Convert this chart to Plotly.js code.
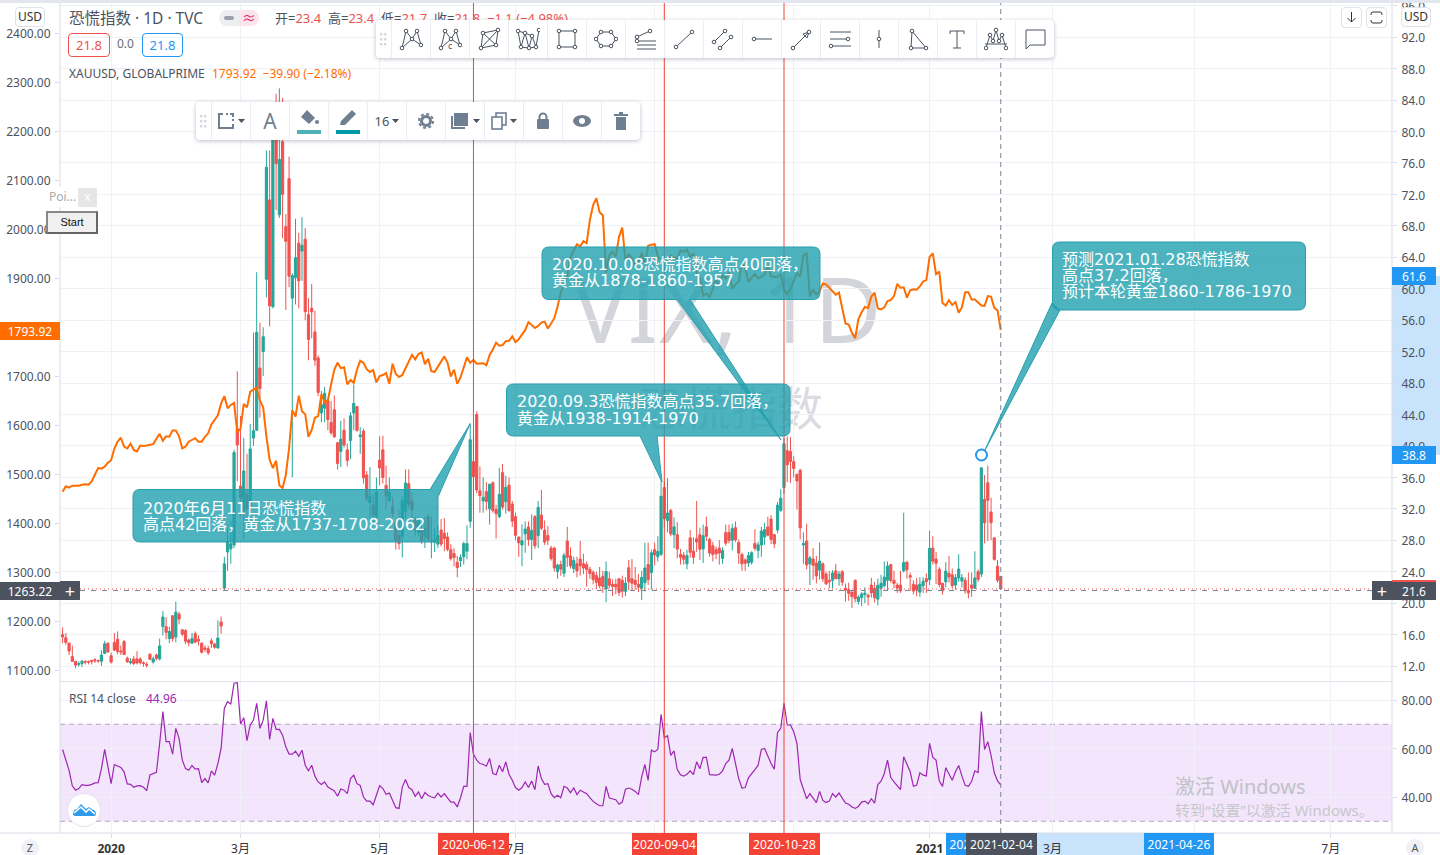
<!DOCTYPE html>
<html><head><meta charset="utf-8">
<script src="https://cdn.plot.ly/plotly-3.0.1.min.js"></script>
<style>
html,body{margin:0;padding:0;background:#fff;width:1440px;height:855px;overflow:hidden;font-family:"Noto Sans","Noto Sans CJK SC",sans-serif}
#wm1,#wm2{position:absolute;color:#d3d5da;white-space:nowrap;z-index:0;transform:translateX(-50%)}
#wm1{left:727px;top:243px;font-size:92px;line-height:130px}
#wm2{left:731px;top:375px;font-size:46px;line-height:60px;color:#d9dbe0;font-family:"Noto Sans CJK SC"}
#chart{position:absolute;left:0;top:0;width:1440px;height:855px;z-index:1}
.w{position:absolute;z-index:3;box-sizing:border-box}
.btn{border:1px solid #dfe2ea;border-radius:4px;background:#fff;font-size:12px;color:#333;text-align:center;line-height:18px}
.bar{background:#fff;border-radius:4px;box-shadow:0 1px 4px rgba(60,70,100,.35);display:flex;height:38px}
.cell{width:39px;height:38px;border-left:1px solid #eceef3;box-sizing:border-box;display:flex;align-items:center;justify-content:center;color:#6f7f92;font-size:13px}
.handle{width:15px;height:38px;display:flex;align-items:center;justify-content:center}
</style></head><body>
<div id="wm1">VIX, 1D</div><div id="wm2">恐慌指数</div>
<div id="chart"></div>
<div class="w" style="left:0;top:0;width:1440px;height:3px;background:#e3e6ef"></div>
<div class="w btn" style="left:15px;top:7px;width:30px;height:20px">USD</div>
<div class="w btn" style="left:1401px;top:7px;width:30px;height:20px">USD</div>
<div class="w btn" style="left:1341px;top:7px;width:21px;height:21px"><svg width="19" height="19" viewBox="0 0 19 19"><path d="M9.5 4v10M5.5 10l4 4 4-4" fill="none" stroke="#333"/></svg></div>
<div class="w btn" style="left:1366px;top:7px;width:21px;height:21px"><svg width="19" height="19" viewBox="0 0 19 19"><path d="M4 7V6a2 2 0 0 1 2-2h7a2 2 0 0 1 2 2v1M4 12v1a2 2 0 0 0 2 2h7a2 2 0 0 0 2-2v-1" fill="none" stroke="#333"/></svg></div>
<div class="w" style="left:219px;top:10px;width:20px;height:16px;background:#eceef2;border-radius:8px 0 0 8px"><div style="position:absolute;left:5px;top:6px;width:10px;height:4px;border-radius:2px;background:#9aa1ad"></div></div>
<div class="w" style="left:239px;top:10px;width:20px;height:16px;background:#fce4ec;border-radius:0 8px 8px 0;color:#e91e63;font-size:14px;line-height:15px;text-align:center">≈</div>
<div class="w" style="left:68px;top:33px;width:42px;height:24px;border:1px solid #ef5350;border-radius:4px;color:#ef5350;font-size:13px;line-height:22px;text-align:center">21.8</div>
<div class="w" style="left:117px;top:36px;font-size:12px;color:#6a6d78;line-height:16px">0.0</div>
<div class="w" style="left:142px;top:33px;width:41px;height:24px;border:1px solid #2196f3;border-radius:4px;color:#2196f3;font-size:13px;line-height:22px;text-align:center">21.8</div>
<div class="w" style="left:46px;top:187px;width:52px;height:20px;background:#fff;color:#aaa;font-size:12px;line-height:20px;padding-left:3px">Poi...<div style="position:absolute;right:1px;top:1px;width:19px;height:19px;background:#e6e6e6;color:#fff;text-align:center;line-height:18px">x</div></div>
<div class="w" style="left:46px;top:211px;width:52px;height:23px;background:#f0f0f0;border:2px solid #666;border-top-color:#888;border-left-color:#888;color:#111;font:11px/19px 'Liberation Sans';text-align:center">Start</div>
<div class="w" style="left:21px;top:839px;width:18px;height:18px;border-radius:9px;background:#eff1f6;color:#555;font-size:11px;line-height:18px;text-align:center">Z</div>
<div class="w" style="left:1406px;top:839px;width:18px;height:18px;border-radius:9px;background:#eff1f6;color:#555;font-size:11px;line-height:18px;text-align:center">A</div>
<div class="w" style="left:67px;top:793px;width:34px;height:34px;border-radius:17px;background:#fff;border:1px solid #e2e4ea"><svg width="32" height="32" viewBox="0 0 32 32"><path d="M5 20c0-3 2-5 4-5l4-5 5 5 3-2 4 3c2 0 3 2 3 4 0 1-1 2-2 2H7c-1 0-2-1-2-2z" fill="#2f9bea"/><path d="M6 19l7-6 5 5 3-3 6 5" fill="none" stroke="#fff" stroke-width="1.6"/></svg></div>
<div class="w bar" id="tb1" style="left:376px;top:20px;width:678px"></div>
<div class="w bar" id="tb2" style="left:196px;top:102px;width:444px"></div>
<script>
// ---------- VIX daily candles, 2019-12-10 .. 2021-02-04 ----------
const vixOpen=[
16,15.6,14.9,13.2,12.6,12.2,12.3,12.6,12.55,12.7,
12.8,12.7,12.6,13.6,14.9,13.3,15,15.4,13.9,15.1,
13,12.4,12.9,12.9,12.9,12.4,12.2,13.5,12.5,13.4,
12.9,17,17,15.5,18.4,15.7,18.6,16.6,16.5,15.3,
14.9,16.1,15.4,14.9,14.3,14.2,15.2,14.8,14.3,17.6,
21.9,26.5,26.9,27.4,42.2,34.9,31.6,33.9,32,41,
42,49.9,52,61.2,71.3,57.7,81.5,69.4,78.7,67.9,
74,58.8,61.4,65.8,64.8,66.3,56.7,57.5,54.5,51.2,
44.2,44.8,45.8,43,44.6,40.4,39.3,42,39.5,40.7,
44.2,45,41.2,41.9,36.3,32.8,32.5,31,38.2,39.5,
35,33,32.3,30.3,28.6,28.5,31.7,35.2,33,30.7,
29,29.5,28.5,31,27.8,27.7,27.5,29.3,28.9,28.4,
26.8,26.3,25.2,25.4,25.9,26.6,30.4,38,44,34.3,
33,34.2,32,35.3,31.9,31,36.6,32.9,35,32.6,
31,28.4,27.4,28.8,29.7,28.1,31,28.6,31.2,29.3,
28.6,27,27,24,24.9,23.8,27.9,26,24.4,25,
25.6,25,24.9,24.3,23.9,23.5,23.2,23.4,21.8,23.1,
22.4,22.4,23.1,22.9,21.5,24.5,23.1,22.9,22.4,21.9,
22.6,24.9,23.9,26.8,25.9,26.2,34.7,30.5,31.8,28.7,
28.7,26.2,26.1,25,28.3,26.6,28.2,28.7,26.9,29.7,
28.1,27.3,26.8,27,25.7,29,29,28,29.6,27.7,
26.2,25.5,25.1,25.2,27.6,26.7,27.4,28.4,29.7,30.7,
28.7,29.3,31.8,34.7,39.4,39.3,38,36.4,36.9,27.4,
27.9,25,25.6,25.1,24.2,25,23.7,22.9,22.9,24.1,
23.1,24,21.9,21.7,21.4,22.9,20.2,20.7,21.1,21,
22.3,21.9,20.5,21.9,22.2,22.9,24.9,22.9,22.3,22.3,
24.1,25.2,23.5,22.4,22.3,21.4,22.2,23.1,23,27,
25.6,24.3,22.5,22.7,23.8,23.6,22.3,23.2,22.8,22.9,
21.6,22.3,21.9,24,23.7,33.2,35.3,31.6,28.3,24.7,
23.4];
const vixHigh=[
16.9,16.2,15,14.6,12.6,12.6,12.8,12.7,12.7,12.8,
13,12.8,14,15.2,15,13.7,16.2,16.4,14.6,15.3,
13.2,13,13.3,13.9,13.1,12.6,12.5,13.6,13.2,13.6,
15.5,19,18.2,17,18.4,20.2,18.9,16.7,16.7,15.5,
16.2,16.4,15.9,15,14.6,14.6,15.5,14.9,17.8,18.3,
25.9,30,30.4,39.5,49.5,43.8,41,39,42.8,54.4,
62.1,55.7,55.1,77.6,77.6,83.6,84.8,85.5,84.3,69.5,
76.8,62,68.9,67.1,69.1,67.7,58.8,60.6,57.2,51.5,
47,47.5,46,45.7,46.4,40.5,43.2,43.5,40.3,44.3,
47.8,45.1,42.4,42.2,36.8,37.3,33.9,36,41.2,41.3,
37.5,36,33.5,30.6,31.8,33.6,37,37,34,31,
31,30.3,31,31.4,31,29.5,29.9,30.7,30.8,29,
27.5,27,26,26.2,27.8,29.9,42.9,41.5,44.4,37.4,
36,35.4,35.2,35.5,32.5,37.2,37.7,36.2,36,33,
31.5,28.5,30,30.4,30.4,31.3,31.2,33,34.4,30.5,
29.8,27.3,27.2,25,25.4,26.4,29.7,27.1,25.9,25.9,
27.9,26.3,25.3,24.6,24.2,24,24.6,24.1,25.3,24,
23,23.1,23.2,23.5,23.3,25.5,25.6,24.6,23.7,24.1,
27.7,27.7,26.8,27.7,28.5,35.7,35.5,35.9,32,30.9,
30.3,26.9,26.5,26.8,29.3,28.4,33,29.6,30,31,
28.3,27.8,27.2,28,27.1,30,30,30.1,30.4,28.1,
26.4,25.7,26.5,26.6,29.4,27.8,29.7,30.2,31,31.2,
28.8,32.9,34.5,41,41.2,41.1,38.7,36.4,37.1,29,
30.1,26,27,26,27.7,25.2,24,24.1,24.2,25,
24.1,24.2,22.5,22.6,21.5,23,21,21.4,22,21.2,
23.2,22.7,23.1,23.6,25.3,25.3,25,24.1,22.6,24.1,
31.5,25.4,23.9,22.9,23.2,23.3,23.3,23.8,29.2,28.5,
26.5,24.6,22.6,25.2,26,24.4,23.7,26.2,23.7,23.3,
23.9,23.9,26.6,24.3,37.3,36.3,37.5,33.4,28.4,25.5,
23.4];
const vixLow=[
14.9,14.7,13.4,12.5,11.7,11.9,11.9,12.2,12.2,12.2,
12.4,12.4,12,13.5,13.7,12.3,13.9,13.5,13.4,13.4,
12.4,12.2,12.1,12.2,12.2,11.9,11.8,12.8,12.3,12.7,
12.7,15.9,15.4,14.9,15.1,15,17.3,15.8,14.8,14.5,
14.9,14.9,14.6,13.6,13.8,13.4,14.3,14.2,14.2,16.1,
21.6,24.1,25,27,35.5,31,28,30,31,40,
41.9,43.6,48.9,58.9,55.2,57.5,70,69,66.4,57.3,
60.2,36,58,57.5,61,56,50.9,53.7,50.2,46.3,
43,43,42,41.4,41,37,37.3,39.8,37.4,38.3,
42,41.8,39,35.2,33,30.5,30,30.4,35,35.2,
32,33,30.9,26.8,26.8,25.8,30.7,32,30.7,28.5,
28.5,27.5,27,27.8,25.7,26.5,27,27.2,26.6,26.6,
25.4,24.7,23.3,24.6,24.9,25.6,29.6,32,34,31.5,
31.5,31.8,30,31.5,28.2,30.8,31.9,31.4,31.6,29.7,
28,25.9,24.7,26.4,27.3,25.5,26.9,27,29.3,27.4,
27.4,25.4,24,23.1,23.5,23.3,24.6,24.4,23.8,23.3,
23.5,23.7,22.1,23.1,22.4,21.8,21.9,21.3,20.1,21.9,
20.9,21.1,20.9,20.7,20.9,21.7,21.6,21.7,21.4,20.4,
21.5,22.3,21.7,24.8,25.3,26,29.6,29,28.5,27,
25.7,24.9,24.9,24.3,25.8,25,26.5,25.5,25.1,27.9,
25.9,25.3,25.6,24.9,25,27.3,27.6,26.7,27.8,25,
24.1,24.1,24.6,24.9,26.7,25.7,25.9,27.4,28.5,27.5,
27,28.9,31.6,33.9,35.4,35.3,36,31.9,28.1,25,
24.3,22.3,23,22.5,23,22.7,22.3,21.9,21.9,23.3,
22.2,22.2,20.2,20.3,19.4,20.1,19.8,19.6,20,19.7,
20.7,20.1,19.7,20.8,22,21.6,22.6,21.9,21.3,21.3,
23.9,23.1,21.6,21.1,20.9,20.8,21.3,21.3,22.3,24.9,
22.4,22,21.1,22,22.6,21.9,21.7,22.7,22,21.2,
20.6,20.8,21.8,22.7,23.3,27.6,27.9,28,25.4,22.6,
21.7];
const vixClose=[
15.7,15,13.9,12.6,12.1,12.3,12.6,12.5,12.5,12.6,
12.67,12.65,13.4,14.82,13.78,12.5,14.02,13.85,13.79,13.45,
12.54,12.56,12.32,12.39,12.42,12.32,12.1,12.85,12.91,12.98,
14.56,18.23,16.28,16.39,15.49,18.84,17.97,16.05,15.15,14.96,
15.47,15.04,15.18,13.74,14.15,13.68,14.83,14.38,15.56,17.08,
25,27.85,27.56,39.16,40.11,33.42,36.82,31.99,39.62,41.94,
54.46,47.3,53.9,75.47,57.83,82.69,75.91,76.45,72,66.04,
61.59,61.67,63.95,61,65.54,57.08,53.54,57.06,50.91,46.8,
45.24,46.7,43.35,41.67,41.17,37.76,40.84,40.11,38.15,43.83,
45.41,41.98,41.38,35.93,33.29,33.57,31.23,34.15,37.19,35.97,
33.61,34.12,31.44,27.98,27.57,33.04,35.28,32.61,31.89,29.3,
30.53,27.99,29.53,28.16,27.91,28.01,28.59,27.51,28.23,26.84,
25.66,25.81,24.52,25.81,27.57,27.57,40.79,36.09,34.4,33.67,
33.47,32.94,35.12,31.77,31.37,33.84,32.22,34.73,31.78,30.43,
28.62,27.68,27.94,29.43,28.08,29.26,27.29,32.19,29.52,27.76,
28,25.68,24.46,24.84,24.32,26.08,25.84,24.74,25.44,24.1,
24.76,24.46,24.28,23.76,22.99,22.65,22.21,22.13,24.03,22.28,
22.13,22.05,21.35,21.51,22.54,22.72,22.54,22.37,22.03,23.27,
24.47,22.96,26.41,26.12,26.57,33.6,30.75,31.46,28.81,29.71,
26.87,25.85,25.59,26.04,26.46,25.83,27.78,26.86,28.58,28.51,
26.38,26.19,26.27,26.37,26.7,27.63,27.96,29.48,28.06,26.36,
25,25.07,26.07,26.4,26.97,27.41,29.18,29.35,28.65,28.11,
27.55,32.46,33.35,40.28,37.59,38.02,37.13,35.55,29.57,27.58,
24.86,25.75,24.8,23.45,25.35,23.1,22.45,22.71,23.84,23.11,
23.7,22.66,21.64,21.25,20.84,20.57,20.77,21.17,21.28,20.79,
21.3,20.68,22.27,22.52,23.31,24.72,22.89,22.5,21.93,21.57,
25.16,24.23,23.31,21.53,21.7,22.4,22.77,22.75,26.97,25.34,
25.07,22.37,21.56,24.08,23.33,22.21,23.25,24.34,23.24,21.58,
21.32,21.91,23.19,23.02,37.21,30.21,33.09,30.24,25.56,22.91,
21.8];
// ---------- XAUUSD close line ----------
const goldClose=[
1464,1475,1472,1476,1476,1476,1478,1479,1478,1485,
1499,1512,1511,1515,1523,1528,1552,1566,1574,1556,
1552,1562,1549,1546,1558,1557,1558,1559,1561,1572,
1582,1568,1577,1576,1589,1589,1577,1552,1556,1566,
1570,1573,1566,1566,1576,1583,1601,1611,1620,1644,
1659,1634,1641,1645,1585,1592,1643,1636,1668,1672,
1676,1650,1636,1577,1529,1512,1527,1477,1471,1498,
1552,1630,1617,1660,1628,1622,1576,1590,1615,1618,
1663,1646,1650,1683,1713,1727,1716,1718,1683,1692,
1686,1713,1731,1727,1714,1708,1712,1687,1700,1702,
1706,1684,1725,1704,1698,1702,1716,1731,1743,1734,
1745,1748,1724,1735,1710,1708,1718,1729,1740,1727,
1699,1713,1684,1697,1716,1738,1727,1733,1725,1726,
1726,1722,1743,1754,1768,1762,1763,1771,1772,1781,
1769,1775,1785,1794,1810,1803,1798,1802,1809,1811,
1797,1807,1818,1842,1871,1888,1902,1944,1955,1969,
1964,1975,1971,2019,2049,2063,2034,2028,1911,1946,
1954,1944,1984,2003,1936,1948,1941,1927,1929,1952,
1929,1966,1968,1969,1945,1931,1933,1932,1946,1942,
1940,1956,1954,1958,1943,1950,1910,1900,1864,1868,
1861,1880,1897,1885,1906,1899,1913,1878,1887,1893,
1930,1922,1892,1901,1908,1899,1903,1907,1924,1904,
1902,1902,1907,1877,1867,1878,1894,1910,1903,1946,
1951,1862,1877,1866,1873,1889,1887,1880,1872,1866,
1870,1837,1807,1805,1788,1777,1816,1830,1841,1839,
1862,1870,1838,1836,1840,1853,1855,1863,1888,1880,
1881,1860,1875,1877,1876,1883,1893,1896,1943,1950,
1908,1913,1849,1844,1855,1845,1851,1829,1840,1871,
1871,1856,1856,1850,1844,1843,1863,1862,1839,1834,
1793.92];
// ---------- RSI 14 ----------
const rsiValues=[
59.6,55.6,51,44.6,42.8,43.5,45.1,44.8,44.8,45.2,
45.8,45.9,51.7,59.6,52.4,45.5,53.4,52.7,52.2,50.4,
45.4,45.2,44,44.6,44.7,44,42.6,49.1,49.5,50.2,
62.1,75.2,62.8,62.8,57.7,68.3,64.2,55.2,51.7,51,
53,51.5,51.7,45.9,47.6,45.8,50.8,49,53.8,60,
76.6,79.3,78.4,86.9,87.1,70.1,72.7,63.2,69.7,71.7,
78.6,68.3,71.7,79.7,63.7,72.4,67.9,67.9,65.5,60.7,
57.7,57.7,58.9,56.8,59.3,53.1,50.8,53.1,48.6,46.2,
45.2,46.2,44.1,43.3,42.5,40.3,43.3,42.8,41.4,47.6,
49,45.5,44.8,40,38.3,38.3,36.8,40.7,44.7,43.5,
41.1,41.6,38.9,35.6,35.3,44.1,47.2,43.9,43,40.3,
42.1,39.3,41.9,40.6,40,39.7,41.6,40,41.4,39.7,
37.9,37.9,35.9,39.7,44.4,44.4,66.6,57.7,55.2,53.8,
53.5,52.7,55.9,49.7,49.2,53.1,50.4,54.5,49.4,46.9,
43.9,42.8,
43.9,46.2,43.9,46.6,43,52.8,47.6,45.2,
45.5,41.4,39.7,40.7,39.7,44.4,43.7,41.8,43.7,41,
42.8,42.1,41.4,39.7,38.2,37.2,36.4,36.4,44.4,39.6,
39.2,38.9,37,37.9,43.2,43.7,43.2,42.3,41,48.3,
53.4,46.9,59.3,58.6,59.7,74.1,64.4,65.3,57.2,59,
51.3,49.2,48.6,49.4,50.8,49.2,54.5,51.7,56.3,56.3,
49.2,49,49,49.4,50.8,53.8,55.2,60,53.1,47.6,
43.7,43.9,47.9,49.4,51.3,53.1,59.6,60,56.6,53.8,
51.5,66.6,68.3,78.6,69.7,69.7,66.9,62.1,47.2,43.5,
39.3,41.4,39.7,37.7,42.3,38.6,37.7,38.3,41.4,40,
41.6,39.3,37.5,37,35.9,35.3,36.1,37.9,38.3,37.2,
39.3,37.5,45.1,46.5,49.7,55.2,48,46.2,44.4,43,
56.6,53.5,50.4,44.4,44.8,50,49,48.7,62.1,56.3,
55.2,46.6,44.4,52.1,49.7,46.9,50.4,53,48.6,44.8,
44.4,46.5,50.8,50.1,75.2,59.6,62.8,57.2,50,46.6,
44.96];
// ---------- axis ticks ----------
const timeTickIndex=[15,55,98,140,183,226,268,306,350,392];
const timeTickText=['<b>2020</b>','3月','5月','7月','9月','11月','<b>2021</b>','3月','5月','7月'];
const vixTicks=[12,16,20,24,28,32,36,40,44,48,52,56,60,64,68,72,76,80,84,88,92,96];
const goldTicks=[1100,1200,1300,1400,1500,1600,1700,1800,1900,2000,2100,2200,2300,2400];
const rsiTicks=[40,60,80];
const markIndex={jun12:127,sep4:186,oct28:223,feb4:290};

const idx=vixClose.map((_,i)=>i);
const PX=p=>(p-60)/1332, PY=p=>(833-p)/829;
const font='"Noto Sans","Noto Sans CJK SC",sans-serif', cjk='"DejaVu Sans","Noto Sans CJK SC",sans-serif';
const grid='#eff1f6', axisC='#d8dce6', txt='#4c525e';

const traces=[
 {type:'candlestick',x:idx,open:vixOpen,high:vixHigh,low:vixLow,close:vixClose,xaxis:'x',yaxis:'y',whiskerwidth:0,hoverinfo:'skip',
  increasing:{line:{color:'#26a69a',width:1},fillcolor:'#26a69a'},decreasing:{line:{color:'#ef5350',width:1},fillcolor:'#ef5350'}},
 {type:'scatter',mode:'lines',x:idx,y:goldClose,xaxis:'x',yaxis:'y2',line:{color:'#ff6d00',width:2},hoverinfo:'skip'},
 {type:'scatter',mode:'lines',x:idx,y:rsiValues,xaxis:'x',yaxis:'y3',line:{color:'#9c27b0',width:1.2},hoverinfo:'skip'}
];

const rect=(x0,x1,y0,y1,fill,layer)=>({type:'rect',xref:'paper',yref:'paper',x0:PX(x0),x1:PX(x1),y0:PY(y0),y1:PY(y1),fillcolor:fill,line:{width:0},layer:layer||'above'});
const lineP=(x0,y0,x1,y1,color,dash,w)=>({type:'line',xref:'paper',yref:'paper',x0:PX(x0),x1:PX(x1),y0:PY(y0),y1:PY(y1),line:{color,width:w||1,dash:dash||'solid'},layer:'above'});
const vline=(i,color,dash)=>({type:'line',xref:'x',yref:'paper',x0:i,x1:i,y0:0,y1:PY(3),line:{color,width:1,dash:dash||'solid'},layer:'above'});

function callout(x0,y0,x1,y1,tail){
 const r=7,P=(x,y)=>PX(x).toFixed(5)+','+PY(y).toFixed(5);
 let d='M'+P(x0+r,y0);
 if(tail.edge==='topright'){tail.pts.forEach(p=>d+=' L'+P(p[0],p[1]));}
 else d+=' L'+P(x1-r,y0)+' Q'+P(x1,y0)+' '+P(x1,y0+r);
 d+=' L'+P(x1,y1-r)+' Q'+P(x1,y1)+' '+P(x1-r,y1);
 if(tail.edge==='bottom') tail.pts.forEach(p=>d+=' L'+P(p[0],p[1]));
 d+=' L'+P(x0+r,y1)+' Q'+P(x0,y1)+' '+P(x0,y1-r);
 d+=' L'+P(x0,y0+r)+' Q'+P(x0,y0)+' '+P(x0+r,y0)+' Z';
 return {type:'path',xref:'paper',yref:'paper',path:d,fillcolor:'rgba(32,160,175,0.8)',line:{color:'#2a9fad',width:1},layer:'above'};
}

const shapes=[
 rect(1392,1440,276,455,'#c8e4fd','below'),
 rect(946,1179,833,855,'#c8e4fd','below'),
 {type:'rect',xref:'paper',yref:'y3',x0:0,x1:1,y0:30,y1:70,fillcolor:'#f3e5fb',line:{width:0},layer:'below'},
 {type:'line',xref:'paper',yref:'y3',x0:0,x1:1,y0:70,y1:70,line:{color:'#b3a7bb',width:1,dash:'5px,4px'},layer:'below'},
 {type:'line',xref:'paper',yref:'y3',x0:0,x1:1,y0:30,y1:30,line:{color:'#b3a7bb',width:1,dash:'5px,4px'},layer:'below'},
 lineP(60,681.5,1392,681.5,'#e0e3eb'),lineP(60,3,60,833,axisC),lineP(1392,3,1392,833,axisC),lineP(0,833,1440,833,axisC),
 {type:'line',xref:'paper',yref:'y',x0:PX(80),x1:PX(1372),y0:21.6,y1:21.6,line:{color:'#758696',width:1,dash:'5px,6px'},layer:'above'},
 {type:'line',xref:'paper',yref:'y',x0:PX(80),x1:1,y0:21.8,y1:21.8,line:{color:'#ef5350',width:1,dash:'1px,3px'},layer:'above'},
 vline(markIndex.feb4,'#758696','5px,4px'),
 vline(markIndex.jun12,'#f44336'),vline(markIndex.sep4,'#f44336'),vline(markIndex.oct28,'#f44336'),
 callout(133,489.5,438,542,{edge:'topright',pts:[[430,489.5],[470,424],[438,497]]}),
 callout(506.5,384,790,436,{edge:'bottom',pts:[[657,436],[662,482],[640,436]]}),
 callout(542,247,820,299.5,{edge:'bottom',pts:[[690,299.5],[781,440],[677,299.5]]}),
 callout(1052.5,242,1305.5,310,{edge:'none'}),
 {type:'path',xref:'paper',yref:'paper',path:'M'+[[1060,310],[985,450],[1052,303]].map(p=>PX(p[0]).toFixed(5)+','+PY(p[1]).toFixed(5)).join(' L')+' Z',fillcolor:'rgba(32,160,175,0.8)',line:{color:'#2a9fad',width:1},layer:'above'},
 {type:'circle',xref:'paper',yref:'paper',x0:PX(976),x1:PX(987),y0:PY(460.5),y1:PY(449.5),fillcolor:'#fff',line:{color:'#2196f3',width:2},layer:'above'}
];

const T=(x,y,text,size,color,fam)=>({xref:'paper',yref:'paper',x:PX(x),y:PY(y),xanchor:'left',yanchor:'middle',showarrow:false,align:'left',borderpad:0,borderwidth:0,text,font:{family:fam||font,size,color}});
const L=(x0,x1,yc,h,text,bg,color,size)=>({xref:'paper',yref:'paper',x:PX(x0),y:PY(yc),xanchor:'left',yanchor:'middle',showarrow:false,text,width:x1-x0,height:h,bgcolor:bg,borderpad:0,borderwidth:0,align:'center',valign:'middle',font:{family:font,size:size||12,color}});
const red='#ef5350',S=(s,c)=>`<span style="color:${c}">${s}</span>`;

const annotations=[
 T(69,18,'恐慌指数 · 1D · TVC',15.5,txt),
 T(275,18,'开='+S('23.4',red)+'  高='+S('23.4',red)+'  低='+S('21.7',red)+'  收='+S('21.8',red)+'  '+S('−1.1 (−4.98%)',red),13,txt),
 T(69,73,'XAUUSD, GLOBALPRIME',12,txt),
 T(212,73,'1793.92  −39.90 (−2.18%)',12,'#ff6d00'),
 T(69,698,'RSI 14 close',12,txt),
 T(146,698,'44.96',12,'#9c27b0'),
 T(143,508,'2020年6月11日恐慌指数',16,'#fff',cjk),T(143,524,'高点42回落，黄金从1737-1708-2062',16,'#fff',cjk),
 T(517,402,'2020.09.3恐慌指数高点35.7回落，',16,'#fff',cjk),T(517,418,'黄金从1938-1914-1970',16,'#fff',cjk),
 T(552,264,'2020.10.08恐慌指数高点40回落，',16,'#fff',cjk),T(552,280,'黄金从1878-1860-1957',16,'#fff',cjk),
 T(1062,259,'预测2021.01.28恐慌指数',16,'#fff',cjk),T(1062,275,'高点37.2回落，',16,'#fff',cjk),T(1062,291,'预计本轮黄金1860-1786-1970',16,'#fff',cjk),
 T(1175,786,'激活 Windows',20,'#c0c2c6'),
 T(1175,810,'转到“设置”以激活 Windows。',15,'#c6c8cc'),
 L(1392,1436,276,18,'61.6','#2196f3','#fff',12),
 L(1392,1436,455,18,'38.8','#2196f3','#fff',12),
 L(1392,1436,589,18,'21.8',red,'#fff',12),
 L(1392,1436,590.5,18,'21.6','#4c525e','#fff',12),
 L(1372,1392,590.5,19,'+','#4c525e','#fff',18),
 L(0,60,330.5,18,'1793.92','#ff6d00','#fff',12),
 L(0,60,590.5,18,'1263.22','#4c525e','#fff',12),
 L(60,80,590.5,19,'+','#4c525e','#fff',18),
 L(438,509,844,22,'2020-06-12','#f44336','#fff',12),
 L(632,697,844,22,'2020-09-04','#f44336','#fff',12),
 L(749,820,844,22,'2020-10-28','#f44336','#fff',12),
 L(946,1016,844,22,'2021-01-27','#2196f3','#fff',12),
 L(1144,1214,844,22,'2021-04-26','#2196f3','#fff',12),
 L(966,1037,844,22,'2021-02-04','#4c525e','#fff',12)
];

const pxPerBar=3.235, first=-(62.6-60)/pxPerBar;
const axisCommon={zeroline:false,ticks:'outside',ticklen:4,tickcolor:axisC,automargin:false,ticklabeloverflow:'allow',ticklabelstandoff:2};
const layout={
 width:1440,height:855,autosize:false,showlegend:false,dragmode:false,hovermode:false,
 margin:{l:60,r:48,t:4,b:22,pad:0},paper_bgcolor:'rgba(0,0,0,0)',plot_bgcolor:'rgba(0,0,0,0)',boxgap:0.03,
 font:{family:font,size:12,color:txt},
 xaxis:{domain:[0,1],anchor:'y3',range:[first,first+1332/pxPerBar],rangeslider:{visible:false},tickmode:'array',tickvals:timeTickIndex,ticktext:timeTickText,
   showgrid:true,gridcolor:grid,zeroline:false,showline:false,ticks:'outside',ticklen:4,tickcolor:axisC,tickfont:{size:12,color:'#333'},automargin:false},
 yaxis:Object.assign({domain:[(833-681)/829,1],range:[12-(681-666)/7.86,12+(666-4)/7.86],side:'right',anchor:'x',tickmode:'array',tickvals:vixTicks,tickformat:'.1f',
   showgrid:true,gridcolor:grid,tickfont:{size:12,color:txt}},axisCommon),
 yaxis2:Object.assign({overlaying:'y',side:'left',anchor:'x',range:[1100-(681-670)/0.49,2400+(33-4)/0.49],tickmode:'array',tickvals:goldTicks,tickformat:'.2f',
   showgrid:false,tickfont:{size:12,color:txt}},axisCommon),
 yaxis3:Object.assign({domain:[0,(833-682)/829],range:[40-(833-797)/2.425,80+(700-682)/2.425],side:'right',anchor:'x',tickmode:'array',tickvals:rsiTicks,tickformat:'.2f',
   showgrid:true,gridcolor:grid,tickfont:{size:12,color:txt}},axisCommon),
 shapes,annotations
};
Plotly.newPlot('chart',traces,layout,{displayModeBar:false,staticPlot:true,responsive:false}).then(()=>{
 document.querySelectorAll('.xtick text,.ytick text,.y2tick text,.y3tick text').forEach(t=>t.setAttribute('y',(+t.getAttribute('y'))+1));
});

const icons=[
 {p:[[[3,21],[7,4],[13,12],[18,4],[22,18],[13,12],[3,21]]],c:[[3,21],[7,4],[13,12],[18,4],[22,18]]},
 {p:[[[3,21],[7,4],[13,12],[18,4],[22,18],[13,12],[3,21]]],c:[[3,21],[7,4],[13,12],[18,4],[22,18]],t:'c'},
 {p:[[[4,21],[6,6],[21,3],[19,18],[4,21],[21,3]],[[6,6],[19,18]]],c:[[4,21],[6,6],[21,3],[19,18]]},
 {p:[[[2,4],[5,20],[9,6],[13,21],[16,9],[20,20],[23,3]],[[2,4],[9,6],[16,9]],[[5,20],[13,21],[20,20]]],c:[[2,4],[5,20],[9,6],[13,21],[16,9],[20,20],[23,3]]},
 {p:[[[4,4],[20,4],[20,20],[4,20],[4,4]]],c:[[4,4],[20,4],[20,20],[4,20]]},
 {p:[[[2,12],[7,5],[17,5],[22,12],[17,19],[7,19],[2,12]]],c:[[2,12],[7,5],[17,5],[22,12],[17,19],[7,19]]},
 {p:[[[4,10],[17,4]],[[4,14],[23,14]],[[4,18],[23,18]],[[4,22],[23,22]]],c:[[4,10],[17,4],[4,14]]},
 {p:[[[4,20],[20,5]]],c:[[4,20],[20,5]]},
 {p:[[[3,15],[14,4]],[[9,21],[20,10]]],c:[[3,15],[14,4],[9,21],[20,10]]},
 {p:[[[4,12],[22,12]]],c:[[4,12]]},
 {p:[[[4,21],[20,5]],[[14,7],[20,5],[18,11],[14,7]]],c:[[4,21],[20,5]]},
 {p:[[[2,5],[23,5]],[[2,12],[20,12]],[[5,19],[23,19]]],c:[[20,12],[3,19]]},
 {p:[[[12,3],[12,21]]],c:[[12,12]]},
 {p:[[[6,4],[20,21],[5,21],[6,4]]],c:[[6,4],[20,21],[5,21]]},
 {p:[[[5,4],[19,4]],[[5,4],[5,7]],[[19,4],[19,7]],[[12,4],[12,21]],[[8,21],[16,21]]],c:[]},
 {p:[[[2,21],[6,8],[9,14],[12,3],[15,14],[18,8],[22,21]],[[1,17],[23,17]]],c:[[2,21],[6,8],[9,14],[12,3],[15,14],[18,8],[22,21]]},
 {p:[[[3,3],[22,3],[22,18],[7,18],[3,22],[3,3]]],c:[]}
];
const iconSvg=ic=>{
 let s='<svg width="24" height="24" viewBox="0 0 24 24" fill="none" stroke="#4a5261" stroke-width="1">';
 ic.p.forEach(l=>s+='<polyline points="'+l.map(q=>q.join(',')).join(' ')+'"/>');
 ic.c.forEach(q=>s+='<circle cx="'+q[0]+'" cy="'+q[1]+'" r="1.8" fill="#fff"/>');
 if(ic.t) s+='<text x="10" y="22" font-size="9" fill="#4a5261" stroke="none">'+ic.t+'</text>';
 return s+'</svg>';
};
const dots='<svg width="7" height="14"><g fill="#d5d8e0">'+[1,6,11].map(y=>'<rect x="0" y="'+y+'" width="2.4" height="2.4"/><rect x="4" y="'+y+'" width="2.4" height="2.4"/>').join('')+'</g></svg>';
document.getElementById('tb1').innerHTML='<div class="handle">'+dots+'</div>'+icons.map(i=>'<div class="cell">'+iconSvg(i)+'</div>').join('');
const g='#6f7f92', caret='<svg width="7" height="4" style="margin-left:3px"><path d="M0 0h7L3.5 4z" fill="#4a5261"/></svg>';
const tb2=[
 '<svg width="18" height="18" fill="none" stroke="'+g+'" stroke-width="2"><path d="M6 2H2v14h14v-4M9 2h2M13 2h3v3M16 7v2" /></svg>'+caret,
 '<span style="font-size:21px;color:'+g+'">A</span>',
 '<svg width="24" height="28"><path d="M10 3l8 8-6 6-8-7z" fill="'+g+'"/><circle cx="20" cy="15" r="2" fill="'+g+'"/><rect x="0" y="23" width="24" height="4" fill="#4fb0b8"/></svg>',
 '<svg width="24" height="28"><path d="M4 18l1-4L16 3l4 4L9 18z" fill="'+g+'"/><rect x="0" y="23" width="24" height="4" fill="#0097a7"/></svg>',
 '<span style="font-size:13px;color:#4c525e">16</span>'+caret,
 '<svg width="18" height="18" fill="none" stroke="'+g+'"><circle cx="9" cy="9" r="4.5" stroke-width="3"/><circle cx="9" cy="9" r="7" stroke-width="2" stroke-dasharray="3 2.5"/></svg>',
 '<svg width="20" height="18"><rect x="4" y="1" width="14" height="13" fill="'+g+'"/><path d="M2 4v12h13" fill="none" stroke="'+g+'" stroke-width="2"/></svg>'+caret,
 '<svg width="16" height="18" fill="none" stroke="'+g+'" stroke-width="1.6"><rect x="5" y="1" width="10" height="12"/><rect x="1" y="5" width="10" height="12" fill="#fff"/></svg>'+caret,
 '<svg width="16" height="18"><rect x="2" y="7" width="12" height="10" rx="1" fill="'+g+'"/><path d="M4.5 7V5a3.5 3.5 0 0 1 7 0v2" fill="none" stroke="'+g+'" stroke-width="2"/></svg>',
 '<svg width="20" height="14"><ellipse cx="10" cy="7" rx="9" ry="6" fill="'+g+'"/><circle cx="10" cy="7" r="3" fill="#fff"/></svg>',
 '<svg width="16" height="18"><rect x="3" y="5" width="10" height="13" fill="'+g+'"/><rect x="1" y="2" width="14" height="2" fill="'+g+'"/><rect x="6" y="0" width="4" height="2" fill="'+g+'"/></svg>'
];
document.getElementById('tb2').innerHTML='<div class="handle">'+dots+'</div>'+tb2.map(h=>'<div class="cell">'+h+'</div>').join('');
</script>
</body></html>
